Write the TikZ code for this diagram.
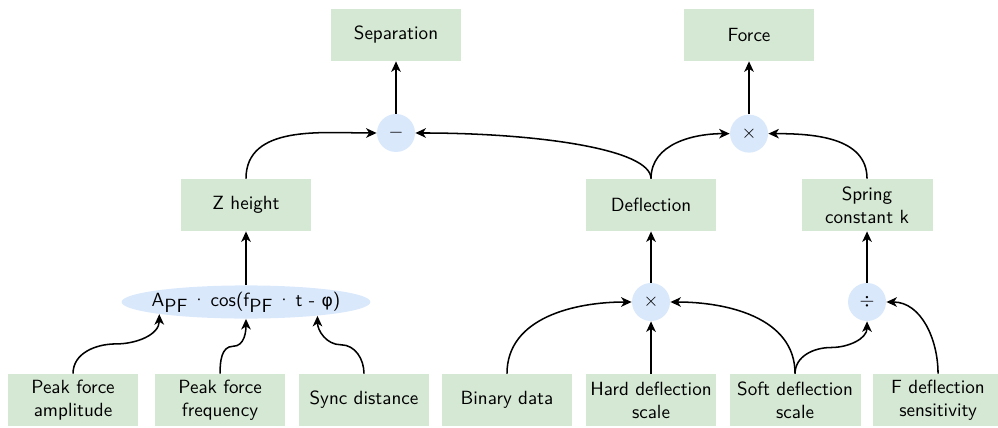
\documentclass[tikz,border=0pt]{standalone}
\usepackage{fontspec}
\newfontfamily\greekfont{DejaVu Sans}[Scale=0.9]
\usetikzlibrary{arrows.meta,shapes.geometric,calc}
\definecolor{boxgreen}{HTML}{D5E8D4}
\definecolor{opblue}{HTML}{DAE8FC}
\newcommand\cdotsp{\hspace{2.2pt}·\hspace{2.2pt}}
\begin{document}
\begin{tikzpicture}[font=\sffamily,
  box/.style={fill=boxgreen,minimum width=2.41cm,minimum height=0.957cm,inner sep=1pt,align=center},
  op/.style={circle,fill=opblue,minimum size=0.70cm,inner sep=0pt},
  link/.style={thick,-{Stealth[length=5.5pt,width=5pt,inset=1.6pt]}}]
\useasboundingbox (0,0) rectangle (18.37,7.86);
% outputs
\node[box] (sep) at (7.289,7.216) {Separation};
\node[box] (force) at (13.787,7.216) {Force};
\node[op] (minus) at (7.289,5.412) {$-$};
\node[op] (times) at (13.787,5.400) {$\times$};
% intermediate values
\node[box] (zh) at (4.528,4.086) {Z height};
\node[box] (defl) at (11.983,4.086) {Deflection};
\node[box] (spring) at (15.959,4.086) {Spring\\constant k};
\node[ellipse,fill=opblue,minimum width=4.58cm,minimum height=0.61cm,inner xsep=-10pt,inner ysep=-3pt] (wave) at (4.528,2.301)
  {A\raisebox{-3pt}{PF}\cdotsp cos(f\raisebox{-3pt}{PF}\cdotsp t - {\greekfont φ})};
\node[op] (mult) at (11.983,2.301) {$\times$};
\node[op] (divide) at (15.959,2.301) {$\div$};
% inputs
\node[box] (amp) at (1.344,0.497) {Peak force\\amplitude};
\node[box] (freq) at (4.050,0.497) {Peak force\\frequency};
\node[box] (sync) at (6.700,0.497) {Sync distance};
\node[box] (bin) at (9.332,0.497) {Binary data};
\node[box] (hard) at (11.983,0.497) {Hard deflection\\scale};
\node[box] (soft) at (14.634,0.497) {Soft deflection\\scale};
\node[box] (fsens) at (17.266,0.497) {F deflection\\sensitivity};
% connectors
\draw[link] (minus) -- (sep);
\draw[link] (times) -- (force);
\draw[link] (wave) -- (zh);
\draw[link] (mult) -- (defl);
\draw[link] (divide) -- (spring);
\draw[link] (hard) -- (mult);
\draw[link] (zh.north) to[out=90,in=180] (minus.west);
\draw[link] (defl.north) to[out=90,in=0,out distance=0.55cm,in distance=2.2cm] (minus.east);
\draw[link] (defl.north) to[out=90,in=180] (times.west);
\draw[link] (spring.north) to[out=90,in=0] (times.east);
\draw[link] (amp.north) to[out=90,in=180] ($(amp.north)!.5!(wave.188)$) to[out=0,in=-90] (wave.188);
\draw[link] (freq.north) to[out=90,in=180] ($(freq.north)!.5!(wave.south)$) to[out=0,in=-90] (wave.south);
\draw[link] (sync.north) to[out=90,in=0] ($(sync.north)!.5!(wave.-11)$) to[out=180,in=-90] (wave.-11);
\draw[link] (bin.north) to[out=90,in=180] (mult.west);
\draw[link] (soft.north) to[out=90,in=0] (mult.east);
\draw[link] (soft.north) to[out=90,in=180] ($(soft.north)!.5!(divide.south)$) to[out=0,in=-90] (divide.south);
\draw[link] (fsens.north) to[out=90,in=0] (divide.east);
\end{tikzpicture}
\end{document}
